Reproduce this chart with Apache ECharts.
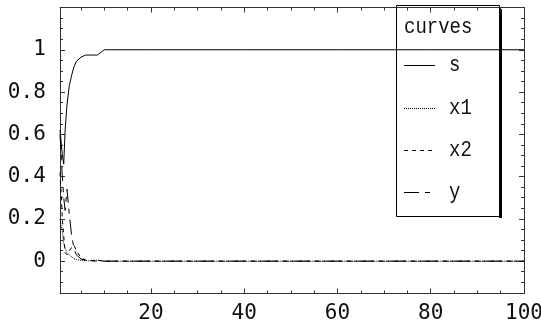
<!DOCTYPE html>
<html>
<head>
<meta charset="utf-8">
<script src="https://cdn.jsdelivr.net/npm/echarts@6/dist/echarts.min.js"></script>
<style>
  html, body { margin: 0; padding: 0; background: #fff; }
  #chart { width: 541px; height: 327px; }
</style>
</head>
<body>
<div id="chart"></div>
<script>
// Time samples shared by all curves
const t  = [0.5, 0.8, 1.0, 1.3, 1.6, 2.0, 2.5, 3.0, 3.5, 4.0, 5.0, 6.0, 7.0, 8.5, 10, 20, 40, 60, 80, 100];
// Curve values
const s  = [0.62, 0.55, 0.50, 0.46, 0.62, 0.74, 0.83, 0.88, 0.92, 0.945, 0.965, 0.975, 0.975, 0.975, 1.0, 1.0, 1.0, 1.0, 1.0, 1.0];
const x1 = [0.20, 0.20, 0.14, 0.085, 0.06, 0.04, 0.03, 0.02, 0.012, 0.008, 0.004, 0.002, 0.001, 0.004, 0, 0, 0, 0, 0, 0];
const x2 = [0.42, 0.30, 0.20, 0.12, 0.04, 0.03, 0.05, 0.065, 0.076, 0.05, 0.015, 0.006, 0.003, 0.005, 0, 0, 0, 0, 0, 0];
const yv = [0.60, 0.48, 0.40, 0.30, 0.24, 0.34, 0.22, 0.12, 0.06, 0.03, 0.01, 0.004, 0.002, 0, 0, 0, 0, 0, 0, 0];

// Tick positions
const xMajor = [20, 40, 60, 80, 100];
const xMinor = [5, 10, 15, 25, 30, 35, 45, 50, 55, 65, 70, 75, 85, 90, 95];
const yMajor = [0, 0.2, 0.4, 0.6, 0.8, 1];
const yMinor = [-0.15, -0.1, -0.05, 0.05, 0.1, 0.15, 0.25, 0.3, 0.35, 0.45, 0.5, 0.55,
                0.65, 0.7, 0.75, 0.85, 0.9, 0.95, 1.05, 1.1, 1.15];

const X_MIN = 0.5, X_MAX = 100;
const Y_MIN = -0.153, Y_MAX = 1.2;

const curveNames = ['s', 'x1', 'x2', 'y'];
const curveData  = [s, x1, x2, yv];
const curveDash  = ['solid', [1, 1], [4, 4], [15, 6, 5, 6]];

const FRAME = '#333';
const TICK_FONT = 'DejaVu Sans Mono';
const LEGEND_FONT = 'Liberation Mono';

// Tick labels: digits with a wide decimal point on the vertical axis
function tickLabel(v, isX) {
  const txt = String(+(+v).toFixed(2));
  if (isX || txt.indexOf('.') < 0) return '{d|' + txt + '}';
  const parts = txt.split('.');
  return '{d|' + parts[0] + '}{p|.}{d|' + parts[1] + '}';
}

function frameAxis(pos, values, len, withLine, withLabels, isX) {
  return {
    type: 'value',
    position: pos,
    min: isX ? X_MIN : Y_MIN,
    max: isX ? X_MAX : Y_MAX,
    axisLine: { show: withLine, onZero: false, lineStyle: { color: FRAME, width: 1 } },
    axisTick: { show: true, inside: true, length: len, customValues: values,
                lineStyle: { color: FRAME, width: 1 } },
    axisLabel: withLabels ? {
      show: true, customValues: values,
      margin: isX ? 10 : 14,
      formatter: v => tickLabel(v, isX),
      rich: {
        d: { fontFamily: TICK_FONT, fontSize: 21, color: '#111' },
        p: { fontFamily: TICK_FONT, fontSize: 21, color: '#111', width: 13, align: 'center' }
      }
    } : { show: false },
    splitLine: { show: false },
    minorTick: { show: false },
    axisPointer: { show: false }
  };
}

const chart = echarts.init(document.getElementById('chart'));

const series = curveNames.map((name, i) => ({
  name,
  type: 'line',
  xAxisIndex: 0,
  yAxisIndex: 0,
  data: t.map((tv, k) => [tv, curveData[i][k]]),
  showSymbol: false,
  symbol: 'none',
  clip: true,
  lineStyle: { color: '#000', width: 1, type: curveDash[i] },
  emphasis: { disabled: true }
}));

// Legend box with drop shadow
const LX = 396, LY = 5, LW = 103, LH = 211;
const entryY = [65, 108, 150, 192];
const legendText = (txt, x, y) => ({
  type: 'text', x, y, scaleY: 1.2,
  style: { text: txt, fontFamily: LEGEND_FONT, fontSize: 19, fill: '#111', verticalAlign: 'middle' }
});
const legendEls = [
  { type: 'rect', shape: { x: LX + LW, y: LY + 4, width: 3, height: LH - 2 }, style: { fill: '#000' } },
  { type: 'rect', shape: { x: LX + 0.5, y: LY + 0.5, width: LW, height: LH }, style: { fill: '#fff', stroke: '#000', lineWidth: 1 } },
  legendText('curves', LX + 8, 27)
];
curveNames.forEach((name, i) => {
  legendEls.push({ type: 'line', shape: { x1: LX + 8, y1: entryY[i] + 0.5, x2: LX + 39, y2: entryY[i] + 0.5 },
                   style: { stroke: '#000', lineWidth: 1, lineDash: curveDash[i] === 'solid' ? null : curveDash[i] } });
  legendEls.push(legendText(name, LX + 53, entryY[i]));
});

chart.setOption({
  animation: false,
  backgroundColor: '#fff',
  grid: { left: 60, right: 17, top: 7.5, bottom: 33.5, containLabel: false, outerBoundsMode: 'none' },
  xAxis: [
    frameAxis('bottom', xMajor, 5, true, true, true),
    frameAxis('bottom', xMinor, 3, false, false, true),
    frameAxis('top', xMajor, 5, true, false, true),
    frameAxis('top', xMinor, 3, false, false, true)
  ],
  yAxis: [
    frameAxis('left', yMajor, 5, true, true, false),
    frameAxis('left', yMinor, 3, false, false, false),
    frameAxis('right', yMajor, 5, true, false, false),
    frameAxis('right', yMinor, 3, false, false, false)
  ],
  series,
  graphic: [{ type: 'group', z: 100, children: legendEls }]
});
</script>
</body>
</html>
